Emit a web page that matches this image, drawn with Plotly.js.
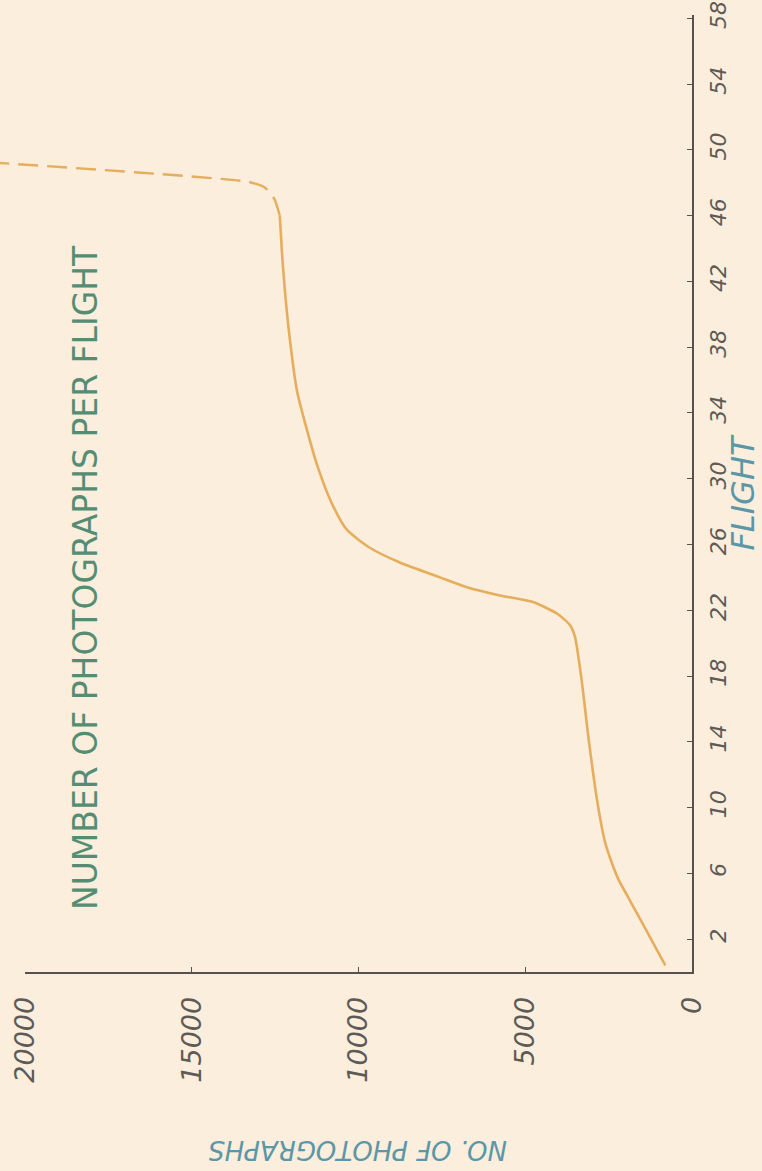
<!DOCTYPE html>
<html>
<head>
<meta charset="utf-8">
<script src="https://cdn.plot.ly/plotly-3.0.1.min.js"></script>
<style>
  html, body { margin: 0; padding: 0; background: #fbeedd; }
  #chart { width: 762px; height: 1171px; }
</style>
</head>
<body>
<div id="chart"></div>
<script>
// Data read from the (rotated) hand-drawn chart
var flightSolid = [0.4, 1.9, 3.2, 4.5, 5.6, 6.9, 8.0, 10.5, 14.5, 17.6, 20.4, 21.1, 21.8, 22.5, 22.9, 23.4, 24.0, 24.9, 25.8, 26.9, 28.5, 30.7, 33.0, 35.4, 38.5, 41.5, 43.9, 46.0];
var photosSolid = [800, 1200, 1550, 1900, 2200, 2450, 2620, 2850, 3120, 3300, 3510, 3660, 4050, 4770, 5760, 6750, 7560, 8760, 9660, 10350, 10800, 11220, 11550, 11850, 12060, 12210, 12300, 12360];

var flightDashed = [46.0, 47.0, 47.7, 48.05, 49.2];
var photosDashed = [12360, 12520, 12800, 13300, 20760];

var flightTicks = [2, 6, 10, 14, 18, 22, 26, 30, 34, 38, 42, 46, 50, 54, 58];
var photoTicks = [0, 5000, 10000, 15000, 20000];

var chartTitle = 'NUMBER OF PHOTOGRAPHS PER FLIGHT';
var flightTitle = 'FLIGHT';
var photoTitle = 'NO. OF PHOTOGRAPHS';

var bg = '#fbeedd';
var curveColor = '#e6ad5c';
var axisColor = '#56514c';
var tickColor = '#5e5a56';
var titleGreen = '#558d74';
var labelTeal = '#5b97a6';

var traces = [
  {
    x: photosSolid, y: flightSolid, xaxis: 'x', yaxis: 'y',
    type: 'scatter', mode: 'lines',
    line: { color: curveColor, width: 2.6, shape: 'spline', smoothing: 0.6 },
    hoverinfo: 'skip', showlegend: false
  },
  {
    x: photosDashed, y: flightDashed, xaxis: 'x2', yaxis: 'y',
    type: 'scatter', mode: 'lines',
    line: { color: curveColor, width: 2.4, shape: 'spline', smoothing: 0.5, dash: '20px,9px' },
    hoverinfo: 'skip', showlegend: false
  }
];

var layout = {
  width: 762, height: 1171,
  margin: { l: 0, r: 70, t: 15, b: 199 },
  paper_bgcolor: bg, plot_bgcolor: 'rgba(0,0,0,0)',
  showlegend: false,
  xaxis: {
    domain: [25 / 692, 1],
    range: [20000, 0],
    anchor: 'y',
    tickvals: photoTicks,
    ticktext: photoTicks.map(String),
    tickangle: -90,
    ticks: 'inside', ticklen: 5, tickcolor: axisColor,
    ticklabelstandoff: 12,
    tickfont: { family: 'DejaVu Sans', size: 27, color: tickColor, style: 'italic' },
    showline: true, linecolor: axisColor, linewidth: 2,
    showgrid: false, zeroline: false, fixedrange: true
  },
  xaxis2: {
    domain: [0, 1],
    range: [20750, 0],
    anchor: 'y',
    visible: false, showgrid: false, zeroline: false, fixedrange: true
  },
  yaxis: {
    range: [0, 58.2],
    anchor: 'x',
    side: 'right',
    tickvals: flightTicks,
    ticktext: flightTicks.map(String),
    tickangle: -90,
    ticks: 'inside', ticklen: 5, tickcolor: axisColor,
    ticklabelstandoff: 6,
    tickfont: { family: 'DejaVu Sans', size: 22, color: tickColor, style: 'italic' },
    showline: true, linecolor: axisColor, linewidth: 2,
    showgrid: false, zeroline: false, fixedrange: true,
    title: {
      text: flightTitle,
      standoff: 6,
      font: { family: 'DejaVu Sans', size: 32, color: labelTeal, style: 'italic' }
    }
  },
  annotations: [
    {
      text: chartTitle, textangle: -90,
      xref: 'paper', yref: 'paper', x: 85 / 692, y: (972 - 578) / 957,
      xanchor: 'center', yanchor: 'middle', showarrow: false,
      font: { family: 'DejaVu Sans', size: 33, color: titleGreen }
    },
    {
      text: photoTitle, textangle: 180,
      xref: 'paper', yref: 'paper', x: 358 / 692, y: -(1150 - 972) / 957,
      xanchor: 'center', yanchor: 'middle', showarrow: false,
      font: { family: 'DejaVu Sans', size: 26, color: labelTeal, style: 'italic' }
    }
  ]
};

Plotly.newPlot('chart', traces, layout, { staticPlot: true, displayModeBar: false });
</script>
</body>
</html>
